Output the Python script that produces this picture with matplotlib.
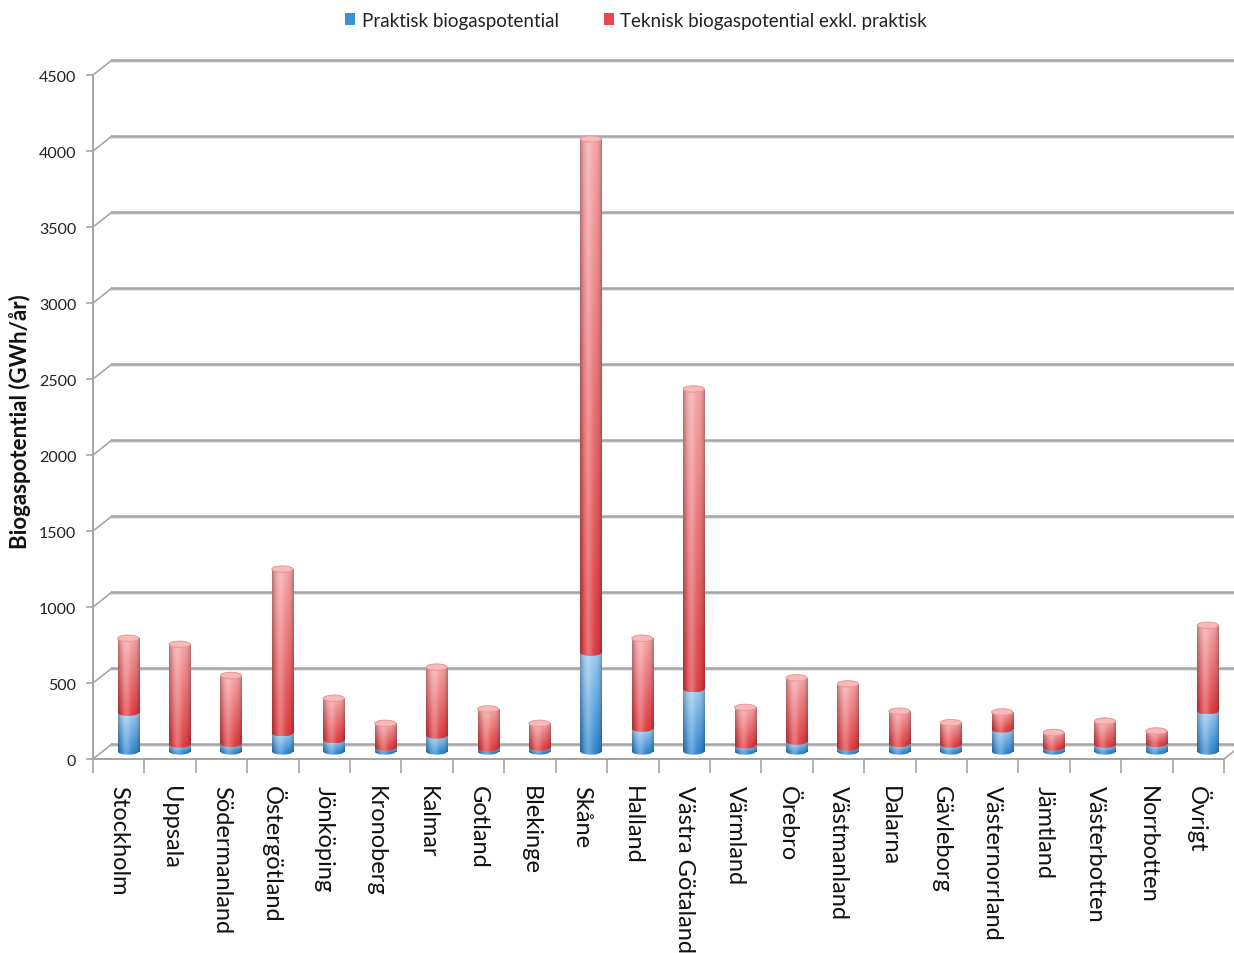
import matplotlib
matplotlib.use("Agg")
import numpy as np
import matplotlib.pyplot as plt
from matplotlib.transforms import offset_copy
from matplotlib.patches import Ellipse, Patch
from matplotlib.colors import to_rgb

# Regional biogas potential (GWh/år)
regions = ["Stockholm", "Uppsala", "Södermanland", "Östergötland", "Jönköping",
           "Kronoberg", "Kalmar", "Gotland", "Blekinge", "Skåne", "Halland",
           "Västra Götaland", "Värmland", "Örebro", "Västmanland", "Dalarna",
           "Gävleborg", "Västernorrland", "Jämtland", "Västerbotten",
           "Norrbotten", "Övrigt"]
praktisk = [255, 45, 50, 120, 75, 25, 105, 20, 25, 650, 150, 410, 40, 65, 25,
            50, 45, 145, 25, 45, 50, 265]
teknisk_exkl = [490, 660, 450, 1080, 275, 160, 450, 260, 160, 3380, 595, 1975,
                250, 420, 420, 215, 145, 115, 100, 155, 85, 565]
y_ticks = [0, 500, 1000, 1500, 2000, 2500, 3000, 3500, 4000, 4500]
legend_labels = ["Praktisk biogaspotential",
                 "Teknisk biogaspotential exkl. praktisk"]

FONT = ["Lato", "DejaVu Sans"]
plt.rcParams["font.family"] = FONT

W, H, DPI = 1234, 954, 100
fig = plt.figure(figsize=(W / DPI, H / DPI), dpi=DPI)
fig.patch.set_facecolor("white")

# front plane of the pseudo-3D box
left, right, bottom, top = 93, 1224, 760, 76
ax = fig.add_axes([left / W, (H - bottom) / H, (right - left) / W, (bottom - top) / H])
ax.set_facecolor("none")
n = len(regions)
x = np.arange(n)
ax.set_xlim(-0.5, n - 0.5)
ax.set_ylim(0, 4500)

GRID = "#a5a5a5"
GRID_SHADOW = "#e0e0e0"
DEPTH = (19, 15)  # pixel offset from front plane to back wall
mid = offset_copy(ax.transData, fig=fig, x=DEPTH[0] / 2, y=DEPTH[1] / 2, units="dots")
back = offset_copy(ax.transData, fig=fig, x=DEPTH[0], y=DEPTH[1], units="dots")
back_shadow = offset_copy(ax.transData, fig=fig, x=DEPTH[0], y=DEPTH[1] - 2, units="dots")

# back-wall gridlines and the diagonal edges joining them to the value axis
for v in y_ticks:
    ax.plot([-0.5, n + 2], [v, v], transform=back_shadow, color=GRID_SHADOW,
            lw=1.2, clip_on=False, zorder=0.5)
    ax.plot([-0.5, n + 2], [v, v], transform=back, color=GRID, lw=1.8,
            clip_on=False, zorder=1)
    p0 = ax.transData.transform((-0.5, v))
    p1 = p0 + np.array(DEPTH)
    q = ax.transData.inverted().transform([p0, p1])
    ax.plot(q[:, 0], q[:, 1], color=GRID, lw=1.2, clip_on=False, zorder=1)

# right edge of the floor
p0 = ax.transData.transform((n - 0.5, 0))
q = ax.transData.inverted().transform([p0, p0 + np.array(DEPTH)])
ax.plot(q[:, 0], q[:, 1], color=GRID, lw=1.2, clip_on=False, zorder=1)

for s in ["top", "right"]:
    ax.spines[s].set_visible(False)
for s in ["left", "bottom"]:
    ax.spines[s].set_color(GRID)
    ax.spines[s].set_linewidth(1.4)

ax.set_yticks(y_ticks)
ax.set_yticklabels([str(v) for v in y_ticks])
ax.tick_params(axis="y", length=5, width=1.2, color=GRID, labelsize=11.5,
               labelcolor="#222222", pad=7)
for lab in ax.get_yticklabels():
    lab.set_transform(lab.get_transform() + offset_copy(
        fig.dpi_scale_trans, fig=fig, x=0, y=-3, units="dots") - fig.dpi_scale_trans)
ax.set_xticks(x)
ax.set_xticklabels(regions, rotation=270, fontsize=17, color="#111111")
ax.set_xticks(np.arange(n + 1) - 0.5, minor=True)
ax.tick_params(axis="x", which="major", length=0, pad=19)
ax.tick_params(axis="x", which="minor", length=10, width=1.2, color=GRID)

BAR_W = 0.41
CAP_H = 42  # ellipse height in value units


def cylinder_image(c_top, c_bot, rows=96, cols=48):
    t = np.linspace(0, 1, rows)[:, None, None]
    u = np.linspace(0, 1, cols)[None, :, None]
    base = np.array(c_top)[None, None, :] * (1 - t) + np.array(c_bot)[None, None, :] * t
    hl = 0.28 * np.exp(-((u - 0.38) / 0.2) ** 2)
    img = base + (1 - base) * hl
    edge = 0.28 * np.abs((u - 0.5) / 0.5) ** 4
    img = img * (1 - edge)
    return np.clip(img, 0, 1)


blue_top, blue_bot = to_rgb("#9ccaf0"), to_rgb("#2f86cf")
red_top, red_bot = to_rgb("#f4a4a6"), to_rgb("#de3c40")


def shaded_ellipse(xc, yc, c_top, c_bot, z):
    """Elliptical end of a cylinder, filled with the cylinder's shading."""
    e = Ellipse((xc, yc), BAR_W, CAP_H, transform=mid, facecolor="none",
                edgecolor="none")
    ax.add_patch(e)
    im = ax.imshow(cylinder_image(c_top, c_bot, rows=8),
                   extent=(xc - BAR_W / 2, xc + BAR_W / 2, yc - CAP_H / 2, yc + CAP_H / 2),
                   origin="upper", aspect="auto", transform=mid,
                   interpolation="bilinear", zorder=z)
    im.set_clip_path(e)


blue_bars = ax.bar(x, praktisk, width=BAR_W, color="none", transform=mid,
                   zorder=3, clip_on=False, linewidth=0)
red_bars = ax.bar(x, teknisk_exkl, bottom=praktisk, width=BAR_W, color="none",
                  transform=mid, zorder=5, clip_on=False, linewidth=0)

for bars, ctop, cbot, z in [(blue_bars, blue_top, blue_bot, 3.5),
                            (red_bars, red_top, red_bot, 5.5)]:
    for b in bars:
        x0, y0 = b.get_x(), b.get_y()
        w, h = b.get_width(), b.get_height()
        im = ax.imshow(cylinder_image(ctop, cbot), extent=(x0, x0 + w, y0, y0 + h),
                       origin="upper", aspect="auto", transform=mid,
                       interpolation="bilinear", zorder=z)
        im.set_clip_path(b)

# rounded base, curved seam between the series and caps on top
for xi, pb, tk in zip(x, praktisk, teknisk_exkl):
    shaded_ellipse(xi, 0, blue_bot, blue_bot, 2)
    shaded_ellipse(xi, pb, red_bot, red_bot, 4.5)
    cap = Ellipse((xi, pb + tk), BAR_W, CAP_H, transform=mid, facecolor="#f7b9ba",
                  edgecolor="#ea9597", linewidth=0.7, zorder=6, clip_on=False)
    ax.add_patch(cap)

ax.set_xlim(-0.5, n - 0.5)
ax.set_ylim(0, 4500)

fig.text(20 / W, 1 - 422 / H, "Biogaspotential (GWh/år)", rotation=90,
         ha="center", va="center", fontsize=16, fontweight="bold", color="#111111")

handles = [Patch(facecolor="#3d8fd6", edgecolor="none"),
           Patch(facecolor="#e8484c", edgecolor="none")]
fig.legend(handles, legend_labels, loc="center", bbox_to_anchor=(636 / W, 1 - 21 / H),
           ncol=2, frameon=False, fontsize=13.5, handlelength=0.55, handleheight=0.55,
           handletextpad=0.35, columnspacing=2.4, labelcolor="#222222")

fig.savefig("out.png", dpi=DPI, facecolor="white")
